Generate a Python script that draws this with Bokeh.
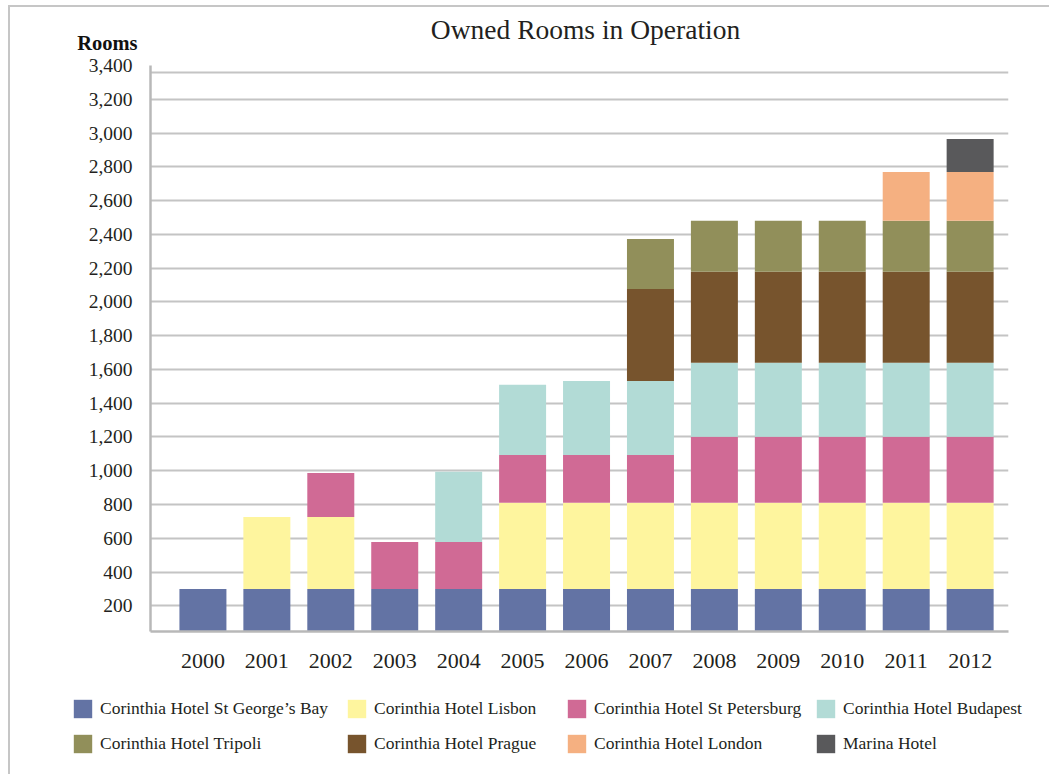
from bokeh.plotting import figure
from bokeh.models import (ColumnDataSource, FixedTicker, NumeralTickFormatter, Label,
                          Legend, LegendItem, Range1d)
from bokeh.embed import file_html
from bokeh.resources import INLINE

# ---------------- data ----------------
years = [2000, 2001, 2002, 2003, 2004, 2005, 2006, 2007, 2008, 2009, 2010, 2011, 2012]
st_georges_bay = [300, 300, 300, 300, 300, 300, 300, 300, 300, 300, 300, 300, 300]
lisbon         = [0, 426, 426, 0, 0, 510, 510, 510, 510, 510, 510, 510, 510]
st_petersburg  = [0, 0, 261, 278, 278, 284, 284, 284, 391, 391, 391, 391, 391]
budapest       = [0, 0, 0, 0, 416, 415, 438, 438, 438, 438, 438, 438, 438]
prague         = [0, 0, 0, 0, 0, 0, 0, 545, 539, 539, 539, 539, 539]
tripoli        = [0, 0, 0, 0, 0, 0, 0, 296, 302, 302, 302, 302, 302]
london         = [0, 0, 0, 0, 0, 0, 0, 0, 0, 0, 0, 290, 290]
marina         = [0, 0, 0, 0, 0, 0, 0, 0, 0, 0, 0, 0, 195]

series_keys = ["sgb", "lisbon", "stp", "budapest", "prague", "tripoli", "london", "marina"]
series_names = ["Corinthia Hotel St George\u2019s Bay", "Corinthia Hotel Lisbon",
                "Corinthia Hotel St Petersburg", "Corinthia Hotel Budapest",
                "Corinthia Hotel Prague", "Corinthia Hotel Tripoli",
                "Corinthia Hotel London", "Marina Hotel"]
series_colors = ["#6373A4", "#FEF59E", "#D06A95", "#B2DBD6",
                 "#77542D", "#918F5A", "#F5B081", "#59595B"]
y_tick_values = [200, 400, 600, 800, 1000, 1200, 1400, 1600, 1800, 2000,
                 2200, 2400, 2600, 2800, 3000, 3200, 3400]
top_rule = 3357          # upper border line of the plotting area

title_text = "Owned Rooms in Operation"
y_title = "Rooms"

# legend: four columns of two entries each
legend_columns = [[0, 5], [1, 4], [2, 6], [3, 7]]
legend_col_x = [61, 335, 555, 804]

FONT = "Liberation Serif"
TEXT = "#231f20"
GRID = "#c4c4c4"
W = 1041
EDGE = "2px solid #c6c6c6"

src = ColumnDataSource(dict(year=years, sgb=st_georges_bay, lisbon=lisbon, stp=st_petersburg,
                            budapest=budapest, prague=prague, tripoli=tripoli,
                            london=london, marina=marina))

# ---------------- header (title and axis title) ----------------
head = figure(width=W, height=49, output_backend="svg", toolbar_location=None,
              x_range=Range1d(0, 1), y_range=Range1d(0, 1),
              x_axis_location=None, y_axis_location=None,
              min_border_left=0, min_border_right=0, min_border_top=0, min_border_bottom=0,
              styles={"margin-left": "8px", "margin-top": "5px",
                      "border-left": EDGE, "border-top": EDGE})
head.title = None
head.grid.visible = False
head.outline_line_color = None
head.add_layout(Label(x=575, y=27, x_units="screen", y_units="screen", text=title_text,
                      text_align="center", text_baseline="middle", text_font=FONT,
                      text_font_size="27.5px", text_color=TEXT))
head.add_layout(Label(x=127, y=14, x_units="screen", y_units="screen", text=y_title,
                      text_align="right", text_baseline="middle", text_font=FONT,
                      text_font_size="20.5px", text_font_style="bold", text_color="#111111"))

# ---------------- main chart ----------------
p = figure(width=W, height=626, output_backend="svg", toolbar_location=None,
           x_range=Range1d(1999.18, 2012.60), y_range=Range1d(48, 3400),
           min_border_left=140, min_border_right=43, min_border_top=11, min_border_bottom=49,
           styles={"margin-left": "8px", "border-left": EDGE})
p.title = None

renderers = p.vbar_stack(series_keys, x="year", width=0.735, source=src,
                         color=series_colors, line_color=None)

p.xaxis.ticker = FixedTicker(ticks=years)
p.xaxis.major_label_text_font = FONT
p.xaxis.major_label_text_font_size = "22px"
p.xaxis.major_label_text_color = TEXT
p.xaxis.major_label_standoff = 16
p.xaxis.axis_line_color = "#b8b8b8"
p.xaxis.axis_line_width = 2.5
p.xaxis.major_tick_line_color = None
p.xaxis.minor_tick_line_color = None

p.yaxis.ticker = FixedTicker(ticks=y_tick_values)
p.yaxis.formatter = NumeralTickFormatter(format="0,0")
p.yaxis.major_label_text_font = FONT
p.yaxis.major_label_text_font_size = "19.5px"
p.yaxis.major_label_text_color = TEXT
p.yaxis.major_label_standoff = 12
p.yaxis.axis_line_color = "#b8b8b8"
p.yaxis.axis_line_width = 2.5
p.yaxis.major_tick_line_color = None
p.yaxis.minor_tick_line_color = None

p.xgrid.grid_line_color = None
p.ygrid.ticker = FixedTicker(ticks=y_tick_values[:-1] + [top_rule])
p.ygrid.grid_line_color = GRID
p.ygrid.grid_line_width = 1.8
p.outline_line_color = None

# ---------------- legend strip ----------------
leg = figure(width=W, height=94, output_backend="svg", toolbar_location=None,
             x_range=Range1d(0, 1), y_range=Range1d(0, 1),
             x_axis_location=None, y_axis_location=None,
             min_border_left=0, min_border_right=0, min_border_top=0, min_border_bottom=0,
             styles={"margin-left": "8px", "border-left": EDGE})
leg.title = None
leg.grid.visible = False
leg.outline_line_color = None
key_renderers = leg.vbar_stack(series_keys, x="year", width=0.735, source=src,
                               color=series_colors, line_color=None)
for r in key_renderers:
    r.visible = False

for col, lx in zip(legend_columns, legend_col_x):
    items = [LegendItem(label=series_names[i], renderers=[key_renderers[i]]) for i in col]
    lg = Legend(items=items, location=(lx, 19), orientation="vertical",
                glyph_width=23, glyph_height=23, label_standoff=6, spacing=12,
                padding=0, margin=0, border_line_color=None, background_fill_alpha=0,
                label_text_font=FONT, label_text_font_size="17.5px", label_text_color=TEXT,
                click_policy="none")
    leg.add_layout(lg)

open("out.html", "w").write(file_html([head, p, leg], INLINE))
